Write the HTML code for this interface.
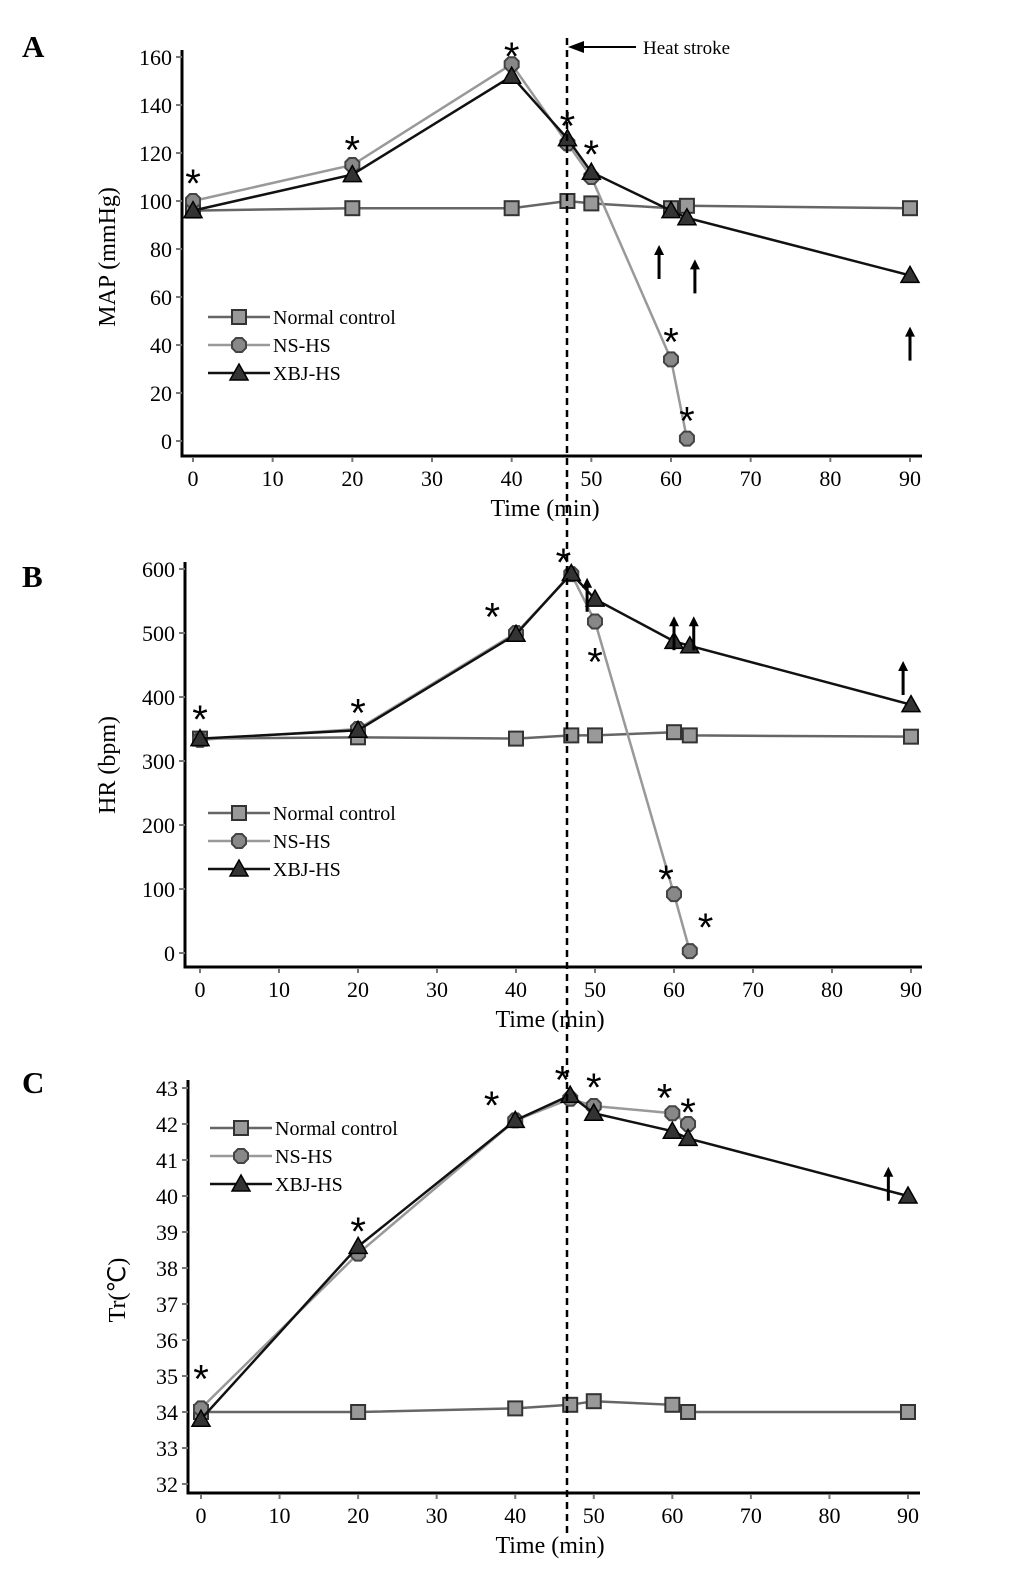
<!DOCTYPE html>
<html><head><meta charset="utf-8"><style>
html,body{margin:0;padding:0;background:#fff}
svg{display:block;font-family:"Liberation Serif",serif}
</style></head><body>
<svg id="fig" width="1033" height="1595" viewBox="0 0 1033 1595" xmlns="http://www.w3.org/2000/svg"></svg>
<script>
// ---- Panel A data (MAP) ----
const timesNormal = [0,20,40,47,50,60,62,90];
const timesNS = [0,20,40,47,50,60,62];
const timesXBJ = [0,20,40,47,50,60,62,90];
const mapNormal = [96,97,97,100,99,97,98,97];
const mapNS = [100,115,157,124,110,34,1];
const mapXBJ = [96,111,152,126,112,96,93,69];
const mapTicks = [0,20,40,60,80,100,120,140,160];
const mapStars = [[0,110],[20,124],[40,163],[47,134],[50,122],[60,44],[62,11]];
const mapArrows = [[58.5,80],[63,74],[90,46]];
// ---- Panel B data (HR) ----
const hrNormal = [335,337,335,340,340,345,340,338];
const hrNS = [333,350,500,592,518,92,3];
const hrXBJ = [335,348,498,593,553,487,480,388];
const hrTicks = [0,100,200,300,400,500,600];
const hrStars = [[0,375],[20,385],[37,535],[46,620],[50,465],[59,125],[64,50]];
const hrArrows = [[49,580],[60,520],[62.5,520],[89,450]];
// ---- Panel C data (Tr) ----
const trNormal = [34,34,34.1,34.2,34.3,34.2,34,34];
const trNS = [34.1,38.4,42.1,42.7,42.5,42.3,42];
const trXBJ = [33.8,38.6,42.1,42.8,42.3,41.8,41.6,40];
const trTicks = [32,33,34,35,36,37,38,39,40,41,42,43];
const trStars = [[0,35.1],[20,39.2],[37,42.7],[46,43.4],[50,43.2],[59,42.9],[62,42.5]];
const trArrows = [[87.5,40.7]];
const xTicks = [0,10,20,30,40,50,60,70,80,90];

const svg = document.getElementById('fig');
const NS = 'http://www.w3.org/2000/svg';
function mk(tag, attrs, parent){const e=document.createElementNS(NS,tag);for(const k in attrs)e.setAttribute(k,attrs[k]);(parent||svg).appendChild(e);return e;}

function panel(cfg){
  const g = mk('g',{});
  
  
  const sx = v => cfg.x0 + (v)*(cfg.x90-cfg.x0)/90;
  const sy = v => cfg.yb + (v-cfg.ymin)*(cfg.yt-cfg.yb)/(cfg.ymax-cfg.ymin);
  const ax = mk('path',{d:`M${cfg.axX},${cfg.top} L${cfg.axX},${cfg.axY} L${cfg.right},${cfg.axY}`,stroke:'#000','stroke-width':3,fill:'none'},g);
  
  
  cfg.yTicks.forEach(t=>{
    mk('line',{x1:cfg.axX-6,x2:cfg.axX,y1:sy(t),y2:sy(t),stroke:'#777','stroke-width':2},g);
    const tx = mk('text',{x:cfg.axX-10,y:sy(t)+8,'text-anchor':'end','font-size':22},g);
    tx.textContent=t;
    
    
  });
  xTicks.forEach(t=>{
    mk('line',{x1:sx(t),x2:sx(t),y1:cfg.axY+1,y2:cfg.axY+6,stroke:'#777','stroke-width':2},g);
    const tx = mk('text',{x:sx(t),y:cfg.axY+30,'text-anchor':'middle','font-size':22},g);
    tx.textContent=t;
    
    
  });
  const xl = mk('text',{x:cfg.xlx,y:cfg.axY+60,'text-anchor':'middle','font-size':24},g);
  xl.textContent='Time (min)';
  
  
  const yl = mk('text',{x:0,y:0,'text-anchor':'middle','font-size':24,transform:`translate(${cfg.ylx},${cfg.yly}) rotate(-90)`},g);
  yl.textContent=cfg.ylabel;
  
  
  const lt = mk('text',{x:22,y:cfg.letterY,'font-size':31,'font-weight':'bold'},g);
  lt.textContent=cfg.letter;
  
  
  function marker(type,x,y,parent){
    let m;
    if(type==='sq') m=mk('rect',{x:x-7,y:y-7,width:14,height:14,fill:'#999',stroke:'#333','stroke-width':2},parent);
    else if(type==='dia'){const r=7;m=mk('polygon',{points:`${x-r},${y-3} ${x-3},${y-r} ${x+3},${y-r} ${x+r},${y-3} ${x+r},${y+3} ${x+3},${y+r} ${x-3},${y+r} ${x-r},${y+3}`,fill:'#888',stroke:'#444','stroke-width':2},parent);}
    else m=mk('polygon',{points:`${x},${y-9} ${x+9},${y+7} ${x-9},${y+7}`,fill:'#333',stroke:'#000','stroke-width':1.5},parent);
    return m;
  }
  const series=[
    {name:'normal-control',t:timesNormal,v:cfg.normal,col:'#666',type:'sq'},
    {name:'ns-hs',t:timesNS,v:cfg.ns,col:'#999',type:'dia'},
    {name:'xbj-hs',t:timesXBJ,v:cfg.xbj,col:'#111',type:'tri'}];
  series.forEach(s=>{
    const sg=mk('g',{},g);
    
    
    const pts=s.t.map((t,i)=>sx(t)+','+sy(s.v[i])).join(' ');
    mk('polyline',{points:pts,fill:'none',stroke:s.col,'stroke-width':2.5},sg);
    s.t.forEach((t,i)=>{
      const m=marker(s.type,sx(t),sy(s.v[i]),sg);
      
      
    });
  });
  cfg.stars.forEach(p=>{
    const st=mk('text',{x:sx(p[0]),y:sy(p[1])+20,'text-anchor':'middle','font-size':40,'font-family':'Liberation Sans, sans-serif'},g);
    st.textContent='*';
    
    
  });
  cfg.arrows.forEach(p=>{
    const x=sx(p[0]),y=sy(p[1]);
    const a=mk('g',{},g);
    
    
    mk('line',{x1:x,x2:x,y1:y,y2:y+30,stroke:'#000','stroke-width':3},a);
    mk('polygon',{points:`${x},${y-4} ${x+5},${y+6} ${x-5},${y+6}`,fill:'#000'},a);
  });
  const lg=mk('g',{},g);
  
  
  const names=['Normal control','NS-HS','XBJ-HS'];
  series.forEach((s,i)=>{
    const y=cfg.legY+i*28;
    const e=mk('g',{},lg);
    
    
    mk('line',{x1:cfg.legX,x2:cfg.legX+62,y1:y,y2:y,stroke:s.col,'stroke-width':2.5},e);
    marker(s.type,cfg.legX+31,y,e);
    const t=mk('text',{x:cfg.legX+65,y:y+7,'font-size':20},e);
    t.textContent=names[i];
  });
}
panel({letter:'A',letterY:57,x0:193,x90:910,ymin:0,ymax:160,yb:441,yt:57,axX:182,axY:456,top:50,right:922,
  yTicks:mapTicks,normal:mapNormal,ns:mapNS,xbj:mapXBJ,stars:mapStars,arrows:mapArrows,
  ylabel:'MAP (mmHg)',ylx:115,yly:257,xlx:545,legX:208,legY:317});
panel({letter:'B',letterY:587,x0:200,x90:911,ymin:0,ymax:600,yb:953,yt:569,axX:185,axY:967,top:562,right:922,
  yTicks:hrTicks,normal:hrNormal,ns:hrNS,xbj:hrXBJ,stars:hrStars,arrows:hrArrows,
  ylabel:'HR (bpm)',ylx:115,yly:765,xlx:550,legX:208,legY:813});
panel({letter:'C',letterY:1093,x0:201,x90:908,ymin:32,ymax:43,yb:1484,yt:1088,axX:188,axY:1493,top:1080,right:920,
  yTicks:trTicks,normal:trNormal,ns:trNS,xbj:trXBJ,stars:trStars,arrows:trArrows,
  ylabel:'Tr(℃)',ylx:125,yly:1290,xlx:550,legX:210,legY:1128});
const dl=mk('line',{x1:567,x2:567,y1:38,y2:1538,stroke:'#000','stroke-width':2.5,'stroke-dasharray':'7,5'});


const ar=mk('g',{});


mk('line',{x1:575,x2:636,y1:47,y2:47,stroke:'#000','stroke-width':2},ar);
mk('polygon',{points:'568,47 584,41 584,53',fill:'#000'},ar);
const ht=mk('text',{x:643,y:54,'font-size':19},ar);
ht.textContent='Heat stroke';
</script>
</body></html>
